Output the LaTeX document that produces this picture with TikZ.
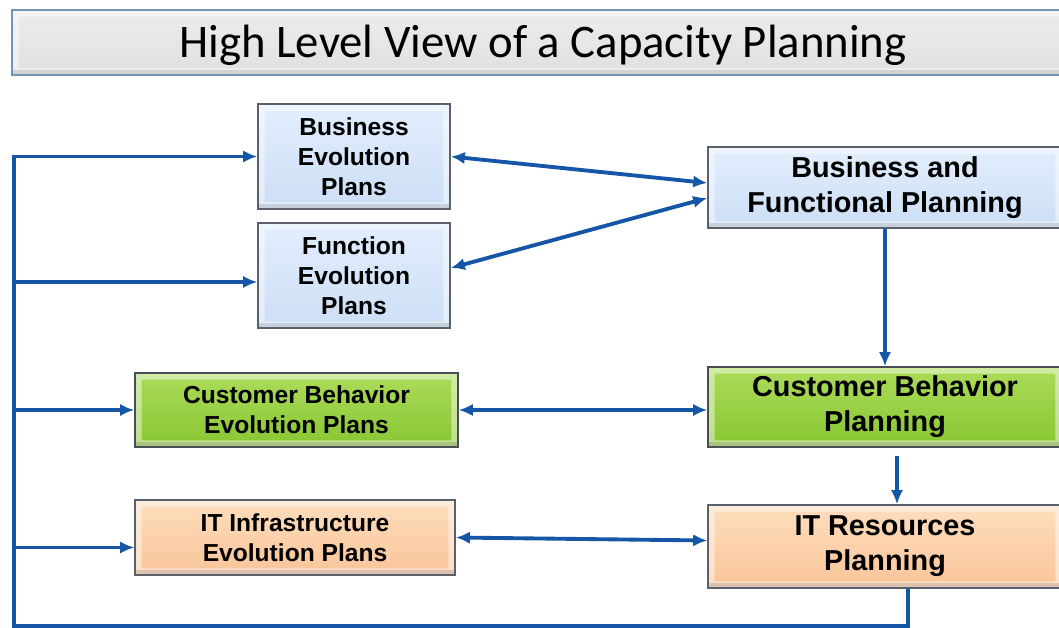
\documentclass[tikz,border=0pt]{standalone}
\usepackage{fontspec}
\setmainfont{Carlito}
\setsansfont{Liberation Sans}
\usetikzlibrary{arrows.meta,positioning,calc}
\definecolor{flowblue}{RGB}{22,86,166}
\definecolor{paleblue}{RGB}{204,222,246}
\definecolor{paleblueTop}{RGB}{226,238,252}
\definecolor{leafgreen}{RGB}{136,198,50}
\definecolor{leafgreenTop}{RGB}{172,220,90}
\definecolor{peach}{RGB}{249,196,152}
\definecolor{peachTop}{RGB}{253,222,190}
\definecolor{titlegray}{RGB}{224,224,226}
\definecolor{Frame}{RGB}{90,96,108}
\definecolor{TitleFrame}{RGB}{112,150,182}

\begin{document}
\begin{tikzpicture}[x=0.02cm,y=-0.02cm,
  bevel/.style={path picture={
      \fill[white,opacity=.45,even odd rule]
        (path picture bounding box.north west) rectangle (path picture bounding box.south east)
        ([shift={(0.13cm,-0.13cm)}]path picture bounding box.north west) rectangle
        ([shift={(-0.13cm,0.13cm)}]path picture bounding box.south east);
      \fill[black,opacity=.12]
        (path picture bounding box.south west) rectangle
        ([yshift=0.1cm]path picture bounding box.south east);}},
  plan/.style={draw=Frame,line width=0.9pt,align=center,inner sep=0pt,bevel,
    font=\sffamily\bfseries\fontsize{14}{17}\selectfont},
  bigplan/.style={plan,font=\sffamily\bfseries\fontsize{16.4}{19.8}\selectfont,
    minimum width=7.08cm},
  bluebox/.style={top color=paleblueTop,bottom color=paleblue},
  greenbox/.style={top color=leafgreenTop,bottom color=leafgreen,draw=Frame!80!black},
  peachbox/.style={top color=peachTop,bottom color=peach},
  flow/.style={draw=flowblue,line width=2.2pt,-{Latex[length=8pt,width=7pt]}},
  twoway/.style={flow,{Latex[length=8pt,width=7pt]}-{Latex[length=8pt,width=7pt]}},
  bus/.style={draw=flowblue,line width=2.2pt}
]
\useasboundingbox (0,0) rectangle (1059,628);

% heading bar
\node[draw=TitleFrame,line width=1pt,top color=titlegray!60,bottom color=titlegray,
  bevel,minimum width=21.16cm,minimum height=1.3cm,font=\fontsize{26.6}{30}\selectfont]
  (head) at (541,42.5) {};
\node[font=\fontsize{26.6}{30}\selectfont] (headtext) at (543,45) {High Level View of a Capacity Planning};

% evolution plans, left column
\node[plan,bluebox,minimum width=3.84cm,minimum height=2.1cm] (bep) at (354,156.5) {Business\\Evolution\\Plans};
\node[plan,bluebox,minimum width=3.84cm,minimum height=2.1cm] (fep) at (354,275.5) {Function\\Evolution\\Plans};
\node[plan,greenbox,minimum width=6.46cm,minimum height=1.48cm] (cbep) at (296.5,410) {Customer Behavior\\Evolution Plans};
\node[plan,peachbox,minimum width=6.4cm,minimum height=1.5cm] (itep) at (295,537.5) {IT Infrastructure\\Evolution Plans};

% planning steps, right column
\node[bigplan,bluebox,minimum height=1.62cm] (bfp) at (885,187.5) {Business and\\Functional Planning};
\node[bigplan,greenbox,minimum height=1.6cm] (cbp) at (885,407) {Customer Behavior\\Planning};
\node[bigplan,peachbox,minimum height=1.66cm] (itrp) at (885,546.5) {IT Resources\\Planning};

% feedback loop back to the plans
\coordinate (bustop) at (14,155);
\coordinate (busend) at (14,626);
\draw[bus] ([xshift=0.46cm]itrp.south) |- (busend) -- (bustop);
\draw[flow] (bep.west -| bustop) -- (bep.west);
\draw[flow] ([yshift=-0.13cm]fep.west -| bustop) -- ([yshift=-0.13cm]fep.west);
\draw[flow] (cbep.west -| bustop) -- (cbep.west);
\draw[flow] ([yshift=-0.2cm]itep.west -| bustop) -- ([yshift=-0.2cm]itep.west);

% exchanges between plans and planning
\draw[twoway] (bep.east) -- ([yshift=0.09cm]bfp.west);
\draw[twoway] ([yshift=0.15cm]fep.east) -- ([yshift=-0.21cm]bfp.west);
\draw[twoway] (cbep.east) -- ([yshift=-0.06cm]cbp.west);
\draw[twoway] (itep.east) -- ([yshift=0.12cm]itrp.west);

% top-down chain
\draw[flow] (bfp.south) -- (cbp.north);
\draw[flow] ([xshift=0.24cm,yshift=-0.16cm]cbp.south) -- ([xshift=0.24cm]itrp.north);
\end{tikzpicture}
\end{document}
